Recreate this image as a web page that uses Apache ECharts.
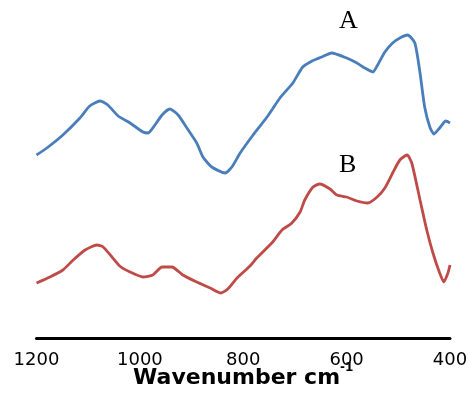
<!DOCTYPE html>
<html>
<head>
<meta charset="utf-8">
<script src="https://cdn.jsdelivr.net/npm/echarts@6/dist/echarts.min.js"></script>
<style>
  html, body { margin: 0; padding: 0; background: #fff; }
  #chart { width: 469px; height: 404px; }
</style>
</head>
<body>
<div id="chart"></div>
<script>
// wavenumber (cm-1) / absorbance (arbitrary units, offset)
const waveA = [1200, 1180, 1149, 1116, 1097, 1077, 1062, 1042, 1019, 994, 984, 975, 957, 942, 926, 909, 890, 878, 861, 835, 822, 806, 781, 754, 729, 704, 685, 667, 658, 648, 629, 600, 580, 565, 549, 540, 526, 511, 497, 482, 468, 458, 449, 439, 431, 420, 408, 400];
const absA = [1.83, 1.90, 2.03, 2.20, 2.32, 2.37, 2.33, 2.22, 2.15, 2.06, 2.05, 2.10, 2.23, 2.29, 2.23, 2.10, 1.95, 1.81, 1.71, 1.65, 1.71, 1.85, 2.03, 2.21, 2.40, 2.55, 2.71, 2.77, 2.79, 2.81, 2.85, 2.80, 2.75, 2.70, 2.66, 2.73, 2.86, 2.95, 3.00, 3.03, 2.95, 2.65, 2.31, 2.11, 2.04, 2.10, 2.17, 2.15];

const waveB = [1200, 1174, 1149, 1129, 1106, 1083, 1071, 1054, 1039, 1019, 994, 975, 957, 938, 917, 890, 864, 843, 830, 812, 787, 774, 743, 725, 706, 690, 681, 665, 652, 632, 619, 600, 580, 559, 541, 526, 511, 497, 483, 474, 458, 445, 433, 420, 412, 404, 400];
const absB = [0.55, 0.61, 0.68, 0.78, 0.88, 0.93, 0.91, 0.81, 0.72, 0.66, 0.61, 0.63, 0.71, 0.71, 0.63, 0.56, 0.50, 0.45, 0.49, 0.60, 0.72, 0.80, 0.96, 1.08, 1.15, 1.26, 1.38, 1.51, 1.54, 1.49, 1.43, 1.41, 1.37, 1.35, 1.41, 1.50, 1.65, 1.78, 1.83, 1.75, 1.38, 1.08, 0.85, 0.65, 0.56, 0.65, 0.73];

const xTicks = [1200, 1000, 800, 600, 400];

const zip = (xs, ys) => xs.map((x, i) => [x, ys[i]]);

const chart = echarts.init(document.getElementById('chart'));
chart.setOption({
  animation: false,
  grid: { left: 36.5, right: 19, top: 0, bottom: 66, outerBoundsMode: 'none' },
  xAxis: {
    type: 'value',
    inverse: true,
    min: 400,
    max: 1200,
    interval: 200,
    name: '{a|Wavenumber cm}{s|-1}',
    nameLocation: 'middle',
    nameGap: 24,
    nameMoveOverlap: false,
    nameTextStyle: {
      rich: {
        a: { fontFamily: 'DejaVu Sans', fontWeight: 'bold', fontSize: 22, lineHeight: 27, verticalAlign: 'bottom', color: '#000' },
        s: { fontFamily: 'DejaVu Sans', fontWeight: 'bold', fontSize: 12, verticalAlign: 'top', color: '#000' }
      }
    },
    axisLine: { lineStyle: { color: '#000', width: 3 } },
    axisTick: { show: false },
    splitLine: { show: false },
    axisLabel: {
      margin: 13,
      fontFamily: 'DejaVu Sans',
      fontSize: 18,
      color: '#000',
      formatter: (v) => (xTicks.includes(v) ? String(v) : '')
    }
  },
  yAxis: { type: 'value', show: false, min: 0, max: 3.38 },
  graphic: [
    { type: 'text', left: 339, top: 8, style: { text: 'A', font: '26px "Liberation Serif"', fill: '#000' } },
    { type: 'text', left: 339, top: 152, style: { text: 'B', font: '26px "Liberation Serif"', fill: '#000' } }
  ],
  series: [
    {
      name: 'A', type: 'line', data: zip(waveA, absA), showSymbol: false, smooth: 0.2,
      lineStyle: { color: '#4A7EBB', width: 2.8 }
    },
    {
      name: 'B', type: 'line', data: zip(waveB, absB), showSymbol: false, smooth: 0.2,
      lineStyle: { color: '#BE4B48', width: 2.8 }
    }
  ]
});
</script>
</body>
</html>
